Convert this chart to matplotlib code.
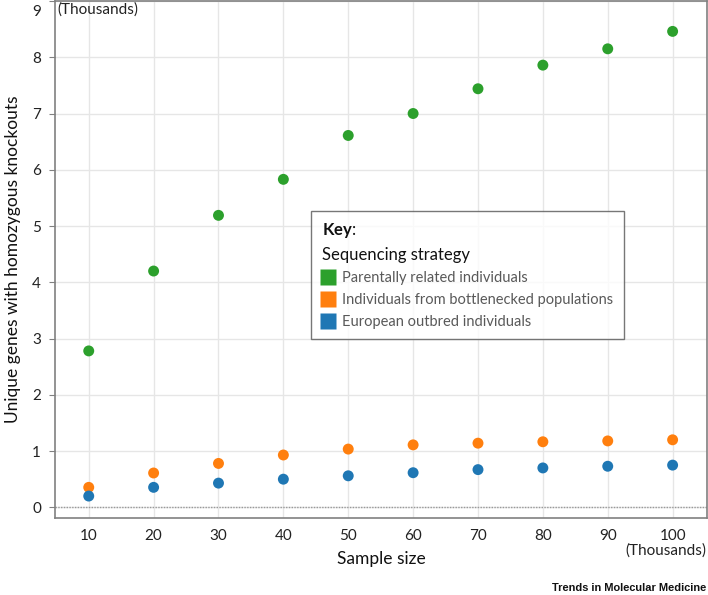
import matplotlib
matplotlib.use("Agg")
import matplotlib.pyplot as plt
import matplotlib.transforms as mtrans
from matplotlib.lines import Line2D

# sample size (thousands)
sample_size = [10, 20, 30, 40, 50, 60, 70, 80, 90, 100]

# unique genes with homozygous knockouts (thousands)
parental = [2.78, 4.20, 5.19, 5.83, 6.61, 7.00, 7.44, 7.86, 8.15, 8.46]
bottleneck = [0.355, 0.61, 0.78, 0.93, 1.035, 1.11, 1.14, 1.165, 1.18, 1.20]
european = [0.20, 0.355, 0.43, 0.50, 0.56, 0.615, 0.67, 0.70, 0.73, 0.75]

series_names = ["Parentally related individuals",
                "Individuals from bottlenecked populations",
                "European outbred individuals"]
series_colors = ["#2ca02c", "#ff7f0e", "#1f77b4"]

plt.rcParams['font.family'] = ['Lato', 'DejaVu Sans']
plt.rcParams['mathtext.fontset'] = 'custom'
plt.rcParams['mathtext.bf'] = 'Lato:bold'
plt.rcParams['mathtext.rm'] = 'Lato'

fig = plt.figure(figsize=(7.08, 5.95), dpi=100)
# axes box in pixels: left 55, right 707, top 1, bottom 518
ax = fig.add_axes([55 / 708, 1 - 518 / 595, 652 / 708, 517 / 595])

for vals, col in zip([parental, bottleneck, european], series_colors):
    ax.scatter(sample_size, vals, s=62, color=col, edgecolors='none', zorder=3)

ax.set_xlim(4.8, 105.3)
ax.set_ylim(-0.19, 9.0)
ax.set_xticks(sample_size)
ax.set_yticks(range(0, 10))
ax.grid(True, color="#e6e6e6", linewidth=1.0)
ax.set_axisbelow(True)
ax.axhline(0, color="#999999", linestyle=(0, (1, 1)), linewidth=1.0, zorder=2)

for s in ax.spines.values():
    s.set_color("#808080")
    s.set_linewidth(1.2)

ax.tick_params(axis='x', length=0, pad=8, labelsize=11, labelcolor="#222222")
ax.tick_params(axis='y', length=4, color="#808080", pad=6, labelsize=11,
               labelcolor="#222222")

# top label "9" sits a little lower so it is not cut by the figure edge
top_lab = ax.get_yticklabels()[-1]
top_lab.set_transform(top_lab.get_transform() +
                      mtrans.ScaledTranslation(0, -9 / 100, fig.dpi_scale_trans))

ax.set_xlabel("Sample size", fontsize=12.5, color="#111111", labelpad=6)
ax.set_ylabel("Unique genes with homozygous knockouts", fontsize=12.5,
              color="#111111", labelpad=8)

ax.text(0.003, 0.997, "(Thousands)", transform=ax.transAxes, ha='left', va='top',
        fontsize=11, color="#222222")
fig.text(706 / 708, 1 - 551 / 595, "(Thousands)", ha='right', va='center',
         fontsize=11, color="#222222")
fig.text(706 / 708, 1 - 588 / 595, "Trends in Molecular Medicine", ha='right',
         va='center', fontsize=7.9, fontweight='bold', color="#111111",
         family='Liberation Sans')

handles = [Line2D([], [], marker='s', linestyle='none', markersize=12,
                  markerfacecolor=c, markeredgecolor='none') for c in series_colors]
leg = ax.legend(handles, series_names,
                title="$\\bf{Key}$:\nSequencing strategy",
                loc='upper left', bbox_to_anchor=(0.393, 0.594), borderaxespad=0,
                fontsize=10.5, title_fontsize=12, alignment='left',
                frameon=True, fancybox=False, edgecolor="#555555",
                handlelength=0.9, handletextpad=0.5, labelspacing=0.55,
                borderpad=0.72)
leg.get_frame().set_linewidth(1.0)
leg.get_title().set_linespacing(1.5)
leg.get_title().set_color("#111111")
for t in leg.get_texts():
    t.set_color("#595959")

fig.savefig("out.png", dpi=100)
